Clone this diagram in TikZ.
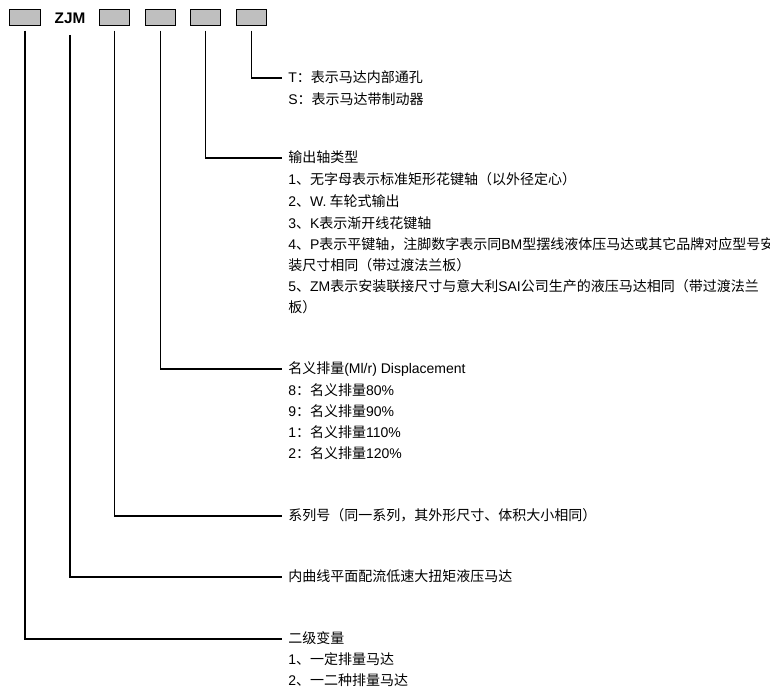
\documentclass[tikz,border=0pt]{standalone}
\usepackage{fontspec}
\setmainfont{Noto Sans CJK SC}
\newfontfamily\latin{Liberation Sans}
\newcommand\lat[1]{{\latin #1}}
\begin{document}
\begin{tikzpicture}[x=0.75pt,y=-0.75pt]
  \useasboundingbox (0,0) rectangle (770,695);
  \clip (0,0) rectangle (770,695);
  \begin{scope}[every node/.style={draw=black,fill=black!25,line width=0.6pt,minimum width=23pt,minimum height=12pt,inner sep=0pt}]
  \node (b1) at (25,17) {};
  \node (b2) at (114.5,17) {};
  \node (b3) at (160.5,17) {};
  \node (b4) at (205.5,17) {};
  \node (b5) at (251.5,17) {};
  \end{scope}
  \node[font=\latin\bfseries\fontsize{11.5}{12}\selectfont,inner sep=0pt] (zjm) at (70,18.5) {ZJM};
  \begin{scope}[every node/.style={anchor=west,inner xsep=4.5pt,inner ysep=0pt,text height=8.5pt,text depth=1.5pt,font=\fontsize{10.5}{12}\selectfont}]
  % T / S
  \node (tsopt) at (282,78) {\lat{T}：表示马达内部通孔};
  \node at (282,100) {\lat{S}：表示马达带制动器};
  % output shaft
  \node (shaft) at (282,158) {输出轴类型};
  \node at (282,180) {\lat{1}、无字母表示标准矩形花键轴（以外径定心）};
  \node at (282,202) {\lat{2}、\lat{W.} 车轮式输出};
  \node at (282,224) {\lat{3}、\lat{K}表示渐开线花键轴};
  \node at (282,245) {\lat{4}、\lat{P}表示平键轴，注脚数字表示同\lat{BM}型摆线液体压马达或其它品牌对应型号安};
  \node at (282,266) {装尺寸相同（带过渡法兰板）};
  \node at (282,287) {\lat{5}、\lat{ZM}表示安装联接尺寸与意大利\lat{SAI}公司生产的液压马达相同（带过渡法兰};
  \node at (282,308) {板）};
  % displacement
  \node (disp) at (282,369) {名义排量\lat{(Ml/r) Displacement}};
  \node at (282,391) {\lat{8}：名义排量\lat{80\%}};
  \node at (282,412) {\lat{9}：名义排量\lat{90\%}};
  \node at (282,433) {\lat{1}：名义排量\lat{110\%}};
  \node at (282,454) {\lat{2}：名义排量\lat{120\%}};
  % series
  \node (series) at (282,516) {系列号（同一系列，其外形尺寸、体积大小相同）};
  \node (motor) at (282,577) {内曲线平面配流低速大扭矩液压马达};
  % two-stage
  \node (stage) at (282,639) {二级变量};
  \node at (282,660) {\lat{1}、一定排量马达};
  \node at (282,681) {\lat{2}、一二种排量马达};
  \end{scope}
  \begin{scope}[every path/.style={draw=black,line width=1pt}]
  \path[shorten <=4pt] (b5.south) |- (tsopt.west);
  \path[shorten <=4pt] (b4.south) |- (shaft.west);
  \path[shorten <=4pt] (b3.south) |- (disp.west);
  \path[shorten <=4pt] (b2.south) |- (series.west);
  \path[shorten <=8pt] (zjm.south) |- (motor.west);
  \path[shorten <=4pt] (b1.south) |- (stage.west);
  \end{scope}
\end{tikzpicture}
\end{document}
